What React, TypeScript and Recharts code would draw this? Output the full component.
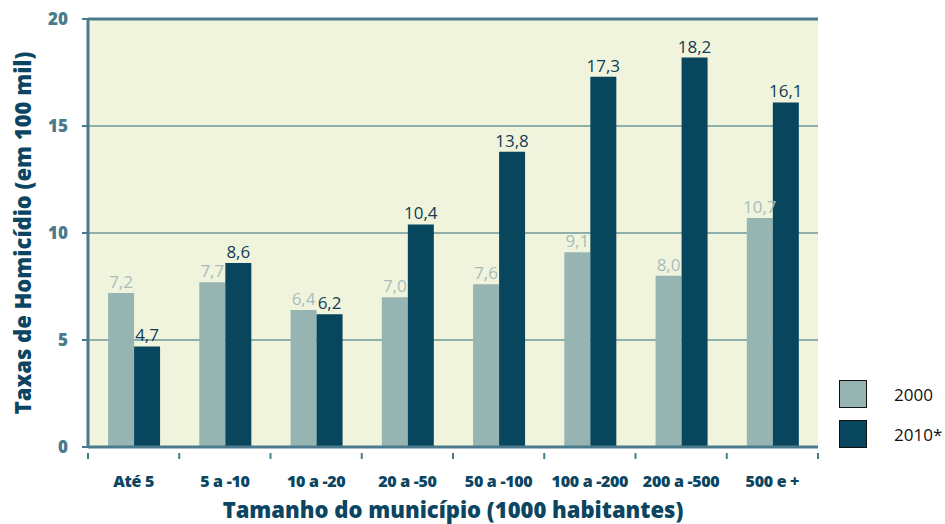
import { Bar, BarChart, CartesianGrid, LabelList, ReferenceLine, XAxis, YAxis } from "recharts";

const categories = ["Até 5", "5 a -10", "10 a -20", "20 a -50", "50 a -100", "100 a -200", "200 a -500", "500 e +"];
const rates2000 = [7.2, 7.7, 6.4, 7.0, 7.6, 9.1, 8.0, 10.7];
const rates2010 = [4.7, 8.6, 6.2, 10.4, 13.8, 17.3, 18.2, 16.1];
const yTicks = [0, 5, 10, 15, 20];

const data = categories.map((name, i) => ({ name, y2000: rates2000[i], y2010: rates2010[i] }));

const AXIS = "#4a7a8c";
const DARK = "#0b4561";
const LIGHT_BAR = "#96b4b2";
const DARK_BAR = "#08465e";
const FONT = "'Open Sans', 'Noto Sans', sans-serif";

const PLOT_LEFT = 88;
const PLOT_RIGHT = 818;
const bandWidth = (PLOT_RIGHT - PLOT_LEFT) / categories.length;

const fmt = (v: number) => v.toFixed(1).replace(".", ",");

// ticks sit at the category boundaries, labels at the centres
const XTick = ({ x, y, payload, index }: any) => {
  const left = x - bandWidth / 2;
  return (
    <g>
      <line x1={left} x2={left} y1={y} y2={y + 6} stroke={AXIS} strokeWidth={2} />
      {index === categories.length - 1 && (
        <line x1={left + bandWidth} x2={left + bandWidth} y1={y} y2={y + 6} stroke={AXIS} strokeWidth={2} />
      )}
      <text x={x} y={y + 34} textAnchor="middle" fill={DARK} fontSize={16} fontWeight={800} fontFamily={FONT} letterSpacing={-0.3}>
        {payload.value}
      </text>
    </g>
  );
};

const App = () => {
  return (
    <div style={{ position: "fixed", left: 0, top: 0, width: 945, height: 524, background: "#fff" }}>
      <BarChart
        width={945}
        height={524}
        data={data}
        margin={{ top: 19, right: 127, left: 28, bottom: 0 }}
        barCategoryGap="22%"
        barGap={0}
      >
        <CartesianGrid vertical={false} stroke="#8fb0aa" strokeWidth={2} fill="#f0f4dc" fillOpacity={1} />
        <XAxis
          dataKey="name"
          height={77}
          tickLine={false}
          tickMargin={0}
          axisLine={{ stroke: AXIS, strokeWidth: 3 }}
          tick={<XTick />}
          interval={0}
          label={{
            value: "Tamanho do município (1000 habitantes)",
            position: "insideBottom",
            offset: 6,
            fill: DARK,
            fontSize: 22,
            fontWeight: 800,
            fontFamily: FONT,
          }}
        />
        <YAxis
          domain={[0, 20]}
          ticks={yTicks}
          width={60}
          axisLine={{ stroke: AXIS, strokeWidth: 3 }}
          tickLine={{ stroke: AXIS, strokeWidth: 2 }}
          tickSize={6}
          tickMargin={14}
          tick={{ fill: AXIS, fontSize: 17, fontWeight: 800, fontFamily: FONT }}
          label={{
            value: "Taxas de Homicídio (em 100 mil)",
            angle: -90,
            position: "insideLeft",
            offset: 0,
            dx: -5,
            style: { textAnchor: "middle" },
            fill: DARK,
            fontSize: 22,
            fontWeight: 800,
            fontFamily: FONT,
          }}
        />
        <YAxis
          yAxisId="right"
          orientation="right"
          domain={[0, 20]}
          width={0}
          tick={false}
          tickLine={false}
          axisLine={{ stroke: "#6e98a3", strokeWidth: 2 }}
        />
        <ReferenceLine y={20} stroke={AXIS} strokeWidth={3} />
        <Bar dataKey="y2000" fill={LIGHT_BAR} isAnimationActive={false}>
          <LabelList dataKey="y2000" position="top" offset={5} formatter={fmt} fill="#a7bdbb" fontSize={17} fontFamily={FONT} />
        </Bar>
        <Bar dataKey="y2010" fill={DARK_BAR} isAnimationActive={false}>
          <LabelList dataKey="y2010" position="top" offset={5} formatter={fmt} fill="#123c52" fontSize={17} fontFamily={FONT} />
        </Bar>
      </BarChart>
      <div style={{ position: "absolute", left: 839, top: 379, fontFamily: FONT, fontSize: 17, color: "#111" }}>
        {[
          { name: "2000", color: LIGHT_BAR },
          { name: "2010*", color: DARK_BAR },
        ].map((item, i) => (
          <div key={item.name} style={{ display: "flex", alignItems: "center", height: 30, marginBottom: i === 0 ? 10 : 0 }}>
            <div style={{ width: 26, height: 26, background: item.color, border: "1.5px solid #111" }} />
            <span style={{ marginLeft: 27 }}>{item.name}</span>
          </div>
        ))}
      </div>
    </div>
  );
};

export default App;
